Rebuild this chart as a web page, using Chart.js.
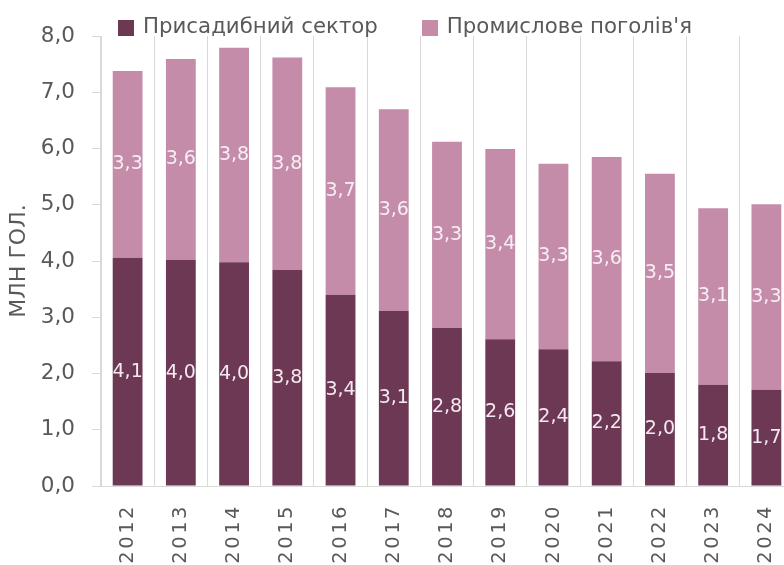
<!DOCTYPE html>
<html>
<head>
<meta charset="utf-8">
<script src="https://cdn.jsdelivr.net/npm/chart.js@4"></script>
<style>
html,body{margin:0;padding:0;background:#fff;overflow:hidden;width:784px;height:565px;}
#c{display:block;}
</style>
</head>
<body>
<canvas id="c" width="800" height="565"></canvas>
<script>
const years = ['2012','2013','2014','2015','2016','2017','2018','2019','2020','2021','2022','2023','2024'];
const households = [4.06, 4.02, 3.98, 3.84, 3.40, 3.11, 2.81, 2.61, 2.43, 2.22, 2.01, 1.80, 1.71];
const industrial = [3.32, 3.57, 3.81, 3.78, 3.69, 3.59, 3.31, 3.38, 3.30, 3.63, 3.54, 3.14, 3.30];
const seriesNames = ['Присадибний сектор', "Промислове поголів'я"];
const seriesColors = ['#6d3853', '#c48ca8'];
const yTitle = 'МЛН ГОЛ.';

const FONT = "'DejaVu Sans', sans-serif";
const GREY = '#595959';
const GRID = '#d9d9d9';
const fmt = v => v.toFixed(1).replace('.', ',');

const labelPlugin = {
  id: 'barLabels',
  afterDatasetsDraw(chart) {
    const ctx = chart.ctx;
    ctx.save();
    ctx.font = '19px ' + FONT;
    ctx.textAlign = 'center';
    ctx.textBaseline = 'middle';
    chart.data.datasets.forEach((ds, i) => {
      const meta = chart.getDatasetMeta(i);
      meta.data.forEach((el, j) => {
        const p = el.getProps(['x', 'y', 'base'], true);
        ctx.fillStyle = i === 0 ? '#f3e9ee' : '#f7eef3';
        ctx.fillText(fmt(ds.data[j]), p.x, (p.y + p.base) / 2);
      });
    });
    ctx.restore();
  }
};

// legend drawn from the datasets (labels + colours)
const topLegend = {
  id: 'topLegend',
  afterDraw(chart) {
    const ctx = chart.ctx;
    ctx.save();
    ctx.font = '21.3px ' + FONT;
    ctx.textBaseline = 'middle';
    ctx.textAlign = 'left';
    const box = 16, gapText = 9, gapItem = 44, cy = 27.5, center = 405;
    const items = chart.data.datasets.map(ds => ({ text: ds.label, color: ds.backgroundColor, w: ctx.measureText(ds.label).width }));
    let total = 0;
    items.forEach((it, i) => { total += box + gapText + it.w + (i ? gapItem : 0); });
    let x = center - total / 2;
    items.forEach(it => {
      ctx.fillStyle = it.color;
      ctx.fillRect(Math.round(x), Math.round(cy - box / 2), box, box);
      ctx.fillStyle = GREY;
      ctx.fillText(it.text, x + box + gapText, cy);
      x += box + gapText + it.w + gapItem;
    });
    ctx.restore();
  }
};

Chart.defaults.font.family = FONT;
Chart.defaults.color = GREY;

new Chart(document.getElementById('c'), {
  type: 'bar',
  data: {
    labels: years,
    datasets: [
      { label: seriesNames[0], data: households, backgroundColor: seriesColors[0], barPercentage: 0.56, categoryPercentage: 1 },
      { label: seriesNames[1], data: industrial, backgroundColor: seriesColors[1], barPercentage: 0.56, categoryPercentage: 1 }
    ]
  },
  options: {
    responsive: false,
    animation: false,
    devicePixelRatio: 1,
    layout: { padding: { top: 36, right: 7, left: 0, bottom: 0 } },
    plugins: {
      tooltip: { enabled: false },
      legend: { display: false }
    },
    scales: {
      x: {
        stacked: true,
        grid: { offset: true, color: GRID, drawTicks: false, lineWidth: 1 },
        border: { color: GRID },
        ticks: { minRotation: 90, maxRotation: 90, padding: 18, color: GREY, font: { size: 19.5, family: FONT } },
        afterFit(s) {
          s.height = 79; s.paddingRight = 0; s.paddingLeft = 0;
          if (!s._lsPatched) {
            const orig = s.drawLabels;
            s.drawLabels = function (area) {
              const ctx = this.ctx;
              ctx.save();
              ctx.letterSpacing = '2.5px';
              orig.call(this, area);
              ctx.restore();
            };
            s._lsPatched = true;
          }
        }
      },
      y: {
        stacked: true,
        min: 0, max: 8,
        grid: { drawOnChartArea: false, drawTicks: true, tickLength: 9, color: GRID },
        border: { color: GRID },
        ticks: { stepSize: 1, padding: 17, color: GREY, font: { size: 21.5, family: FONT }, callback: v => fmt(v) },
        title: { display: true, text: yTitle, color: GREY, font: { size: 22, family: FONT }, padding: 6 },
        afterFit(s) { s.width = 101; }
      }
    }
  },
  plugins: [labelPlugin, topLegend]
});
</script>
</body>
</html>
